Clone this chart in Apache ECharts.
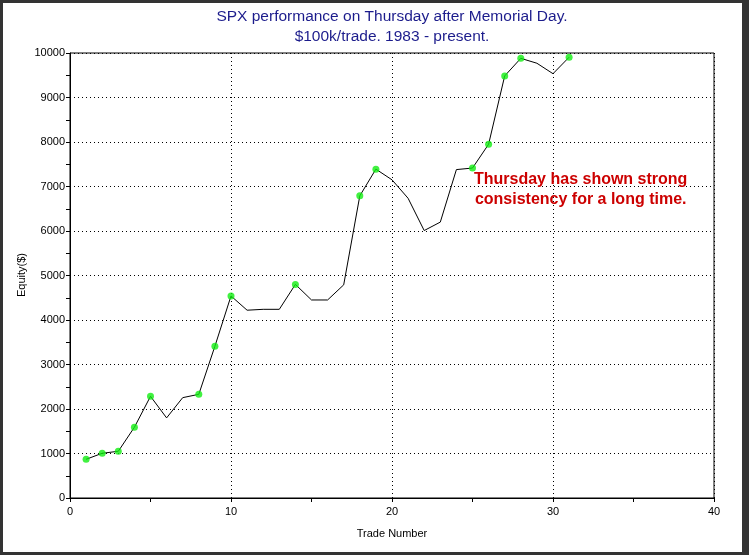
<!DOCTYPE html>
<html>
<head>
<meta charset="utf-8">
<script src="https://cdn.jsdelivr.net/npm/echarts@6/dist/echarts.min.js"></script>
<style>
  html, body { margin: 0; padding: 0; background: #333333; }
  #chart { position: absolute; left: 3px; top: 3px; width: 739px; height: 549px; background: #ffffff; }
</style>
</head>
<body>
<div id="chart"></div>
<script>
// equity after each trade ($)
var tradeNums = [1, 2, 3, 4, 5, 6, 7, 8, 9, 10, 11, 12, 13, 14, 15, 16, 17, 18, 19, 20, 21, 22, 23, 24, 25, 26, 27, 28, 29, 30, 31];
var equity = [870, 1005, 1050, 1590, 2285, 1800, 2255, 2330, 3410, 4540, 4220, 4240, 4240, 4800, 4450, 4450, 4790, 6790, 7390, 7150, 6735, 6010, 6200, 7380, 7415, 7950, 9485, 9880, 9770, 9535, 9905];
// trades that set a new equity high (green dots)
var highTrades = [1, 2, 3, 4, 5, 8, 9, 10, 14, 18, 19, 25, 26, 27, 28, 31];
var xTicks = [0, 10, 20, 30, 40];
var yTicks = [0, 1000, 2000, 3000, 4000, 5000, 6000, 7000, 8000, 9000, 10000];

var lineData = tradeNums.map(function (n, i) { return [n, equity[i]]; });
var dotData = highTrades.map(function (n) { return [n, equity[tradeNums.indexOf(n)]]; });

var chart = echarts.init(document.getElementById('chart'));
var font = 'Liberation Sans, Arial, sans-serif';

chart.setOption({
  animation: false,
  backgroundColor: '#ffffff',
  title: {
    text: 'SPX performance on Thursday after Memorial Day.\n$100k/trade. 1983 - present.',
    left: 389,
    top: 4,
    padding: 0,
    textAlign: 'center',
    textStyle: { color: '#1c1c8c', fontSize: 15.5, fontWeight: 'normal', fontFamily: font, lineHeight: 20 }
  },
  grid: {
    left: 67, right: 28, top: 50, bottom: 54,
    show: true, borderColor: '#000', borderWidth: 1
  },
  xAxis: {
    type: 'value',
    min: xTicks[0], max: xTicks[xTicks.length - 1], interval: 10,
    name: 'Trade Number', nameLocation: 'middle', nameGap: 30,
    nameTextStyle: { color: '#000', fontSize: 11, fontFamily: font },
    axisLine: { lineStyle: { color: '#000', width: 1 } },
    axisTick: { show: true, length: 4, lineStyle: { color: '#000' } },
    minorTick: { show: true, splitNumber: 2, length: 4, lineStyle: { color: '#000' } },
    axisLabel: { color: '#000', fontSize: 11, fontFamily: font, margin: 8 },
    splitLine: { show: true, lineStyle: { color: '#000', type: [1, 3] } }
  },
  yAxis: {
    type: 'value',
    min: yTicks[0], max: yTicks[yTicks.length - 1], interval: 1000,
    axisLine: { show: true, lineStyle: { color: '#000', width: 1 } },
    axisTick: { show: true, length: 4, lineStyle: { color: '#000' } },
    minorTick: { show: true, splitNumber: 2, length: 4, lineStyle: { color: '#000' } },
    axisLabel: {
      color: '#000', fontSize: 11, fontFamily: font, margin: 5,
      formatter: function (v) { return String(v); }
    },
    splitLine: { show: true, lineStyle: { color: '#000', type: [1, 3] } }
  },
  graphic: [{
    type: 'text',
    x: 19, y: 272,
    rotation: Math.PI / 2,
    style: {
      text: 'Equity($)',
      fill: '#000',
      font: '11px ' + font,
      align: 'center',
      verticalAlign: 'middle'
    }
  }, {
    type: 'text',
    left: 471, top: 167,
    style: {
      text: 'Thursday has shown strong\nconsistency for a long time.',
      fill: '#cc0000',
      font: 'bold 16px ' + font,
      textAlign: 'center',
      lineHeight: 20
    },
    z: 10
  }],
  series: [{
    type: 'line',
    data: lineData,
    symbol: 'none',
    lineStyle: { color: '#000', width: 1 },
    z: 2
  }, {
    type: 'scatter',
    data: dotData,
    symbolSize: 7,
    itemStyle: { color: '#11ee11' },
    z: 3
  }]
});
</script>
</body>
</html>
